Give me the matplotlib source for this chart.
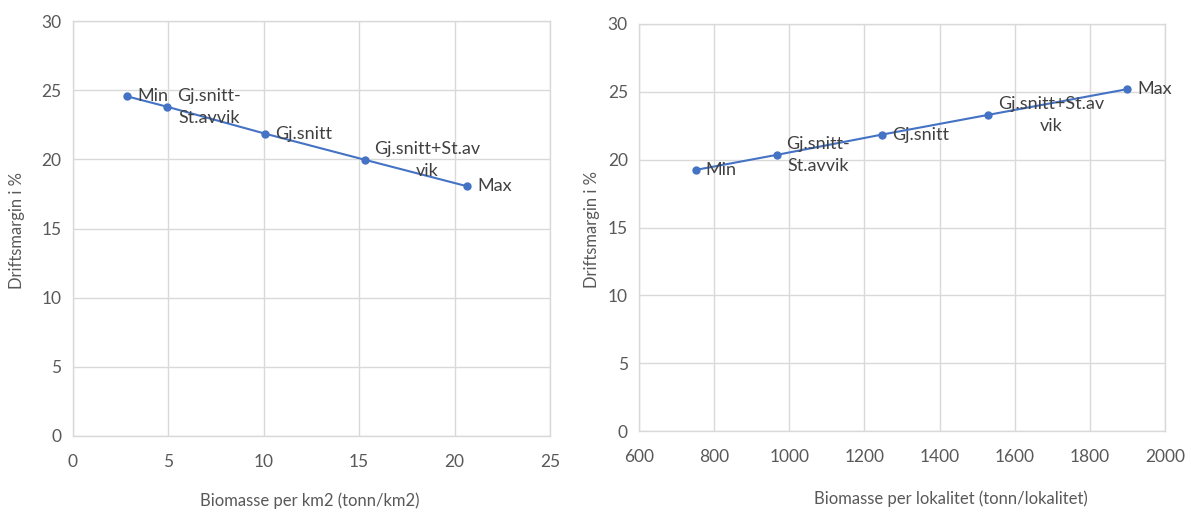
import matplotlib
matplotlib.use("Agg")
import matplotlib.pyplot as plt

# Driftsmargin vs. biomasse per km2
km2_x = [2.87, 4.96, 10.1, 15.3, 20.67]
km2_y = [24.55, 23.8, 21.85, 19.97, 18.05]

# Driftsmargin vs. biomasse per lokalitet
lok_x = [752, 966, 1247, 1529, 1900]
lok_y = [19.25, 20.35, 21.85, 23.3, 25.2]

point_labels = ["Min", "Gj.snitt-\nSt.avvik", "Gj.snitt", "Gj.snitt+St.av\nvik", "Max"]

y_ticks = [0, 5, 10, 15, 20, 25, 30]
km2_ticks = [0, 5, 10, 15, 20, 25]
lok_ticks = [600, 800, 1000, 1200, 1400, 1600, 1800, 2000]

plt.rcParams['font.family'] = ['Lato', 'DejaVu Sans']

W, H = 1191, 512
fig = plt.figure(figsize=(W / 100, H / 100), dpi=100)
fig.patch.set_facecolor("white")

LINE = "#4472C4"
GRID = "#d9d9d9"
TICK = "#595959"
TEXT = "#404040"


def px_axes(l, r, t, b):
    return fig.add_axes([l / W, 1 - b / H, (r - l) / W, (b - t) / H])


def style(ax, xticks, xlim, xlabel, xlab_pos, ylab_pos):
    ax.set_xlim(*xlim)
    ax.set_ylim(0, 30)
    ax.set_xticks(xticks)
    ax.set_yticks(y_ticks)
    ax.grid(True, color=GRID, linewidth=1.0)
    ax.set_axisbelow(True)
    for s in ax.spines.values():
        s.set_color(GRID)
        s.set_linewidth(1.0)
    ax.tick_params(length=0, labelsize=12.5, colors=TICK, pad=8)
    ax.tick_params(axis="x", pad=13)
    ax.set_xlabel(xlabel, fontsize=12, color=TICK)
    ax.set_ylabel("Driftsmargin i %", fontsize=12, color=TICK)
    ax.xaxis.set_label_coords(*xlab_pos)
    ax.yaxis.set_label_coords(*ylab_pos)


def draw(ax, xs, ys, dx):
    ax.plot(xs, ys, color=LINE, linewidth=1.5, marker="o", markersize=5, zorder=3)
    for x, y, lab in zip(xs, ys, point_labels):
        ax.annotate(lab, (x, y), xytext=(dx, 0), textcoords="offset points",
                    ha="left", va="center", multialignment="center",
                    fontsize=13, color=TEXT, linespacing=1.45, zorder=4)


ax1 = px_axes(72.5, 550, 21, 436)
style(ax1, km2_ticks, (0, 25), "Biomasse per km2 (tonn/km2)",
      (0.497, -0.135), (-0.10, 0.496))
draw(ax1, km2_x, km2_y, 7)

ax2 = px_axes(639, 1165, 24, 431)
style(ax2, lok_ticks, (600, 2000), "Biomasse per lokalitet (tonn/lokalitet)",
      (0.593, -0.145), (-0.074, 0.496))
draw(ax2, lok_x, lok_y, 7)

fig.savefig("out.png", dpi=100, facecolor="white")
